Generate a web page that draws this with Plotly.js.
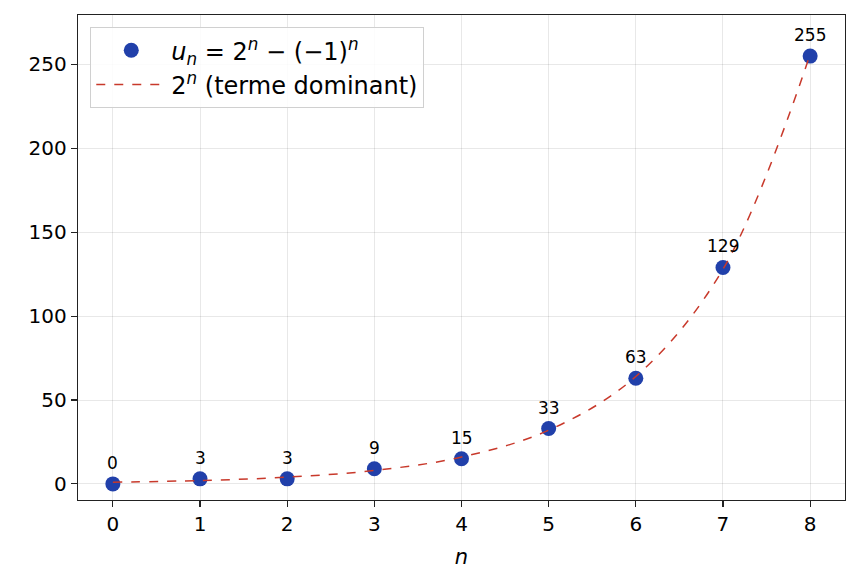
<!DOCTYPE html>
<html><head><meta charset="utf-8">
<script src="https://cdn.plot.ly/plotly-3.0.1.min.js"></script>
<style>body{margin:0;background:#fff}#c{width:859px;height:588px}</style>
</head><body><div id="c"></div>
<script>
const nValues = [0,1,2,3,4,5,6,7,8];
const uValues = [0,3,3,9,15,33,63,129,255];
const uLabels = ["0","3","3","9","15","33","63","129","255"];
const domValues = [1,2,4,8,16,32,64,128,256];
const xTicks = [0,1,2,3,4,5,6,7,8];
const yTicks = [0,50,100,150,200,250];

const font = "DejaVu Sans";
const traces = [
  {x:nValues, y:uValues, mode:"markers", type:"scatter",
   name:"<i>u</i><sub><i>n</i></sub> = 2<sup><i>n</i></sup> − (−1)<sup><i>n</i></sup>",
   marker:{color:"#2140aa", size:15}},
  {x:nValues, y:domValues, mode:"lines", type:"scatter",
   name:"2<sup><i>n</i></sup> (terme dominant)",
   line:{color:"#c8392b", width:1.5, dash:"dash", shape:"spline"}}
];
const annotations = nValues.map((n, i) => ({
  x:n, y:uValues[i], text:uLabels[i], showarrow:false,
  xanchor:"center", yanchor:"bottom", yshift:9,
  font:{family:font, size:17, color:"#000"}
}));
const axisCommon = {showline:true, mirror:true, linecolor:"#222", linewidth:1.2,
  ticks:"outside", ticklen:6, tickwidth:1.2, tickcolor:"#222",
  showgrid:true, gridcolor:"rgba(0,0,0,0.09)", gridwidth:1, zeroline:false,
  tickfont:{family:font, size:20, color:"#000"}};
const layout = {
  width:859, height:588, margin:{l:78, r:14, t:15, b:88},
  paper_bgcolor:"#fff", plot_bgcolor:"#fff",
  font:{family:font, color:"#000"},
  annotations: annotations,
  xaxis:Object.assign({}, axisCommon, {range:[-0.4,8.4], tickvals:xTicks,
    title:{text:"<i>n</i>", font:{family:font, size:21}, standoff:14}}),
  yaxis:Object.assign({}, axisCommon, {range:[-9.6,279.5], tickvals:yTicks}),
  showlegend:true,
  legend:{x:0.016, y:0.975, xanchor:"left", yanchor:"top",
    bgcolor:"rgba(255,255,255,0.85)", bordercolor:"#d0d0d0", borderwidth:1,
    font:{family:font, size:24}, itemwidth:70, tracegroupgap:0}
};
Plotly.newPlot("c", traces, layout, {displayModeBar:false, staticPlot:true});
</script></body></html>
